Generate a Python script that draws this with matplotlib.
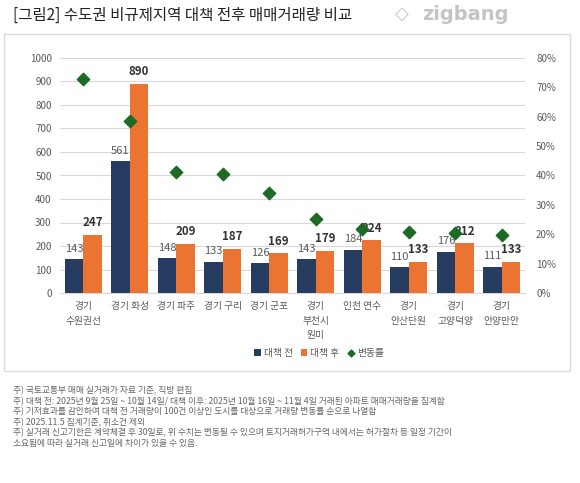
import matplotlib
matplotlib.use("Agg")
import matplotlib.pyplot as plt
import matplotlib.patches as patches
import numpy as np

plt.rcParams['font.family'] = ['Noto Sans CJK KR', 'DejaVu Sans']

regions = ['경기\n수원권선', '경기 화성', '경기 파주', '경기 구리', '경기 군포',
           '경기\n부천시\n원미', '인천 연수', '경기\n안산단원', '경기\n고양덕양', '경기\n안양만안']
before = [143, 561, 148, 133, 126, 143, 184, 110, 176, 111]
after = [247, 890, 209, 187, 169, 179, 224, 133, 212, 133]
change = [0.727, 0.586, 0.412, 0.406, 0.341, 0.252, 0.217, 0.209, 0.205, 0.198]

notes = [
    '주) 국토교통부 매매 실거래가 자료 기준, 직방 편집',
    '주) 대책 전: 2025년 9월 25일 ~ 10월 14일/ 대책 이후: 2025년 10월 16일 ~ 11월 4일 거래된 아파트 매매거래량을 집계함',
    '주) 기저효과를 감안하여 대책 전 거래량이 100건 이상인 도시를 대상으로 거래량 변동률 순으로 나열함',
    '주) 2025.11.5 집계기준, 취소건 제외',
    '주) 실거래 신고기한은 계약체결 후 30일로, 위 수치는 변동될 수 있으며 토지거래허가구역 내에서는 허가절차 등 일정 기간이',
    '소요됨에 따라 실거래 신고일에 차이가 있을 수 있음.',
]

navy = '#263D61'
orange = '#EC7432'
green = '#1D6A25'
gray = '#595959'

fig = plt.figure(figsize=(5.8, 4.83), dpi=100)
fig.patches.append(patches.Rectangle((4 / 580, 1 - 371 / 483), 566 / 580, 337 / 483,
                                     transform=fig.transFigure, fill=False,
                                     edgecolor='#DADADA', linewidth=1))

fig.text(13 / 580, 1 - 15 / 483, '[그림2] 수도권 비규제지역 대책 전후 매매거래량 비교',
         fontsize=11.2, color='#222222', va='center', ha='left')
fig.text(395 / 580, 1 - 14 / 483, '◇', fontsize=13, color='#C4C4C4',
         va='center', ha='left', family=['DejaVu Sans'])
fig.text(422 / 580, 1 - 14 / 483, 'zigbang', fontsize=14, color='#C4C4C4',
         va='center', ha='left', family=['DejaVu Sans'], fontweight='bold')

ax = fig.add_axes([60 / 580, 1 - 293 / 483, 465 / 580, 235 / 483])
x = np.arange(len(regions))
w = 0.4
b1 = ax.bar(x - w / 2, before, w, color=navy, label='대책 전', zorder=3)
b2 = ax.bar(x + w / 2, after, w, color=orange, label='대책 후', zorder=3)
for r, v in zip(b1, before):
    ax.annotate(str(v), (r.get_x() + r.get_width() / 2, v), xytext=(0, 4),
                textcoords='offset points', ha='center', va='bottom',
                fontsize=8, color=gray)
for r, v in zip(b2, after):
    ax.annotate(str(v), (r.get_x() + r.get_width() / 2, v), xytext=(0, 4),
                textcoords='offset points', ha='center', va='bottom',
                fontsize=8.3, color='#333333', fontweight='bold')

ax.set_xlim(-0.5, len(regions) - 0.5)
ax.set_ylim(0, 1000)
ax.set_yticks(range(0, 1001, 100))
ax.set_xticks(x)
ax.set_xticklabels(regions, linespacing=1.55)
ax.grid(axis='y', color='#D9D9D9', linewidth=0.8, zorder=0)
for s in ax.spines.values():
    s.set_visible(False)
ax.spines['bottom'].set_visible(True)
ax.spines['bottom'].set_color('#D9D9D9')
ax.tick_params(axis='both', length=0, labelsize=7, colors=gray, pad=6)

ax2 = ax.twinx()
sc = ax2.scatter(x, change, marker='D', s=40, color=green, label='변동률', zorder=4)
ax2.set_ylim(0, 0.8)
ax2.set_yticks(np.arange(0, 0.81, 0.1))
ax2.set_yticklabels([f'{int(round(t * 100))}%' for t in np.arange(0, 0.81, 0.1)])
for s in ax2.spines.values():
    s.set_visible(False)
ax2.tick_params(axis='y', length=0, labelsize=7, colors=gray, pad=8)

handles = [b1, b2, sc]
fig.legend(handles, ['대책 전', '대책 후', '변동률'], loc='center',
           bbox_to_anchor=(319 / 580, 1 - 353 / 483), ncol=3, frameon=False,
           fontsize=7, labelcolor=gray, handlelength=0.7, handletextpad=0.3,
           columnspacing=0.8, markerscale=0.55)

for i, line in enumerate(notes):
    fig.text(13 / 580, 1 - (391 + i * 10.5) / 483, line, fontsize=6.3,
             color='#666666', va='center', ha='left')

fig.savefig('out.png', dpi=100)
